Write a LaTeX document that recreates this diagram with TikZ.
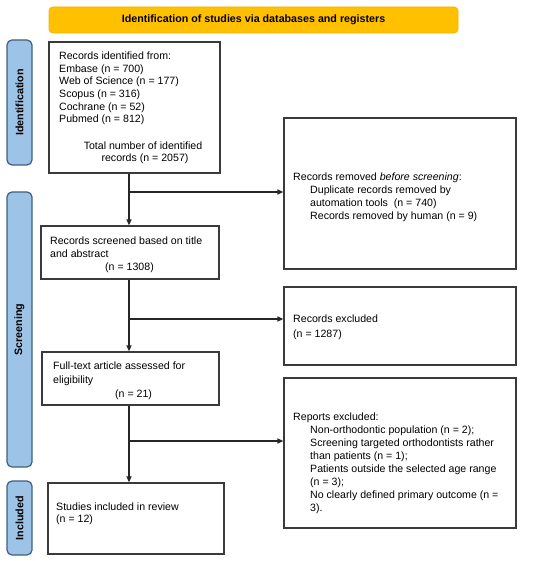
\documentclass[tikz,border=0pt]{standalone}
\usepackage{fontspec}
\setmainfont{Liberation Sans}
\usetikzlibrary{arrows.meta}
\definecolor{hdrfill}{HTML}{FFC000}
\definecolor{hdrdraw}{HTML}{F2B200}
\definecolor{sidefill}{HTML}{9DC3E6}
\definecolor{sidedraw}{HTML}{3F5F7F}
\definecolor{boxdraw}{HTML}{3A3A3A}
\begin{document}
\begin{tikzpicture}[x=1pt,y=-1pt,
  box/.style={draw=boxdraw,line width=1.2pt,fill=white,inner sep=0pt},
  hdr/.style={draw=hdrdraw,line width=0.8pt,fill=hdrfill,rounded corners=4pt,inner sep=0pt,
    font=\fontsize{10.7}{12}\selectfont\bfseries},
  side/.style={draw=sidedraw,line width=1.2pt,fill=sidefill,rounded corners=5pt,inner sep=0pt,
    font=\fontsize{10.7}{12}\selectfont\bfseries},
  sidetxt/.style={rotate=90,font=\fontsize{10.7}{12}\selectfont\bfseries,inner sep=0pt},
  txt/.style={inner sep=0pt,anchor=north west,align=left,font=\fontsize{10.6}{12.7}\selectfont},
  arr/.style={draw=black!85,line width=1.2pt,-{Triangle[length=6pt,width=5pt]}}]
\useasboundingbox (0,0) rectangle (550,561);
\fill[white] (0,0) rectangle (550,561);
% header
\node[hdr,minimum width=409pt,minimum height=26pt] (hdr) at (253.5,20) {Identification of studies via databases and registers};
% side labels
\node[side,minimum width=25pt,minimum height=125pt] (sid) at (19.5,102.5) {};
\node[sidetxt] (sidt) at (sid.center) {Identification};
\node[side,minimum width=25pt,minimum height=275pt] (ssc) at (19.5,329.5) {};
\node[sidetxt] (ssct) at (ssc.center) {Screening};
\node[side,minimum width=25pt,minimum height=74pt] (sin) at (19.5,518) {};
\node[sidetxt] (sint) at (sin.center) {Included};
% boxes
\node[box,minimum width=171pt,minimum height=131pt] (b1) at (134.5,107.5) {};
\node[box,minimum width=232pt,minimum height=151pt] (rem) at (400,193.5) {};
\node[box,minimum width=178pt,minimum height=53pt] (scr) at (130,252.5) {};
\node[box,minimum width=232pt,minimum height=78pt] (exc) at (400,326) {};
\node[box,minimum width=177pt,minimum height=53pt] (ful) at (130.5,378.5) {};
\node[box,minimum width=232pt,minimum height=150pt] (rep) at (400,453) {};
\node[box,minimum width=176pt,minimum height=71pt] (inc) at (136,518.5) {};
% texts
\node[txt] (t1) at (59,51.5) {Records identified from:\\Embase (n = 700)\\Web of Science (n = 177)\\Scopus (n = 316)\\Cochrane (n = 52)\\Pubmed (n = 812)};
\node[txt,anchor=center,align=center,font=\fontsize{10.6}{12}\selectfont] (t1b) at (143,152.5) {Total number of identified\\\hspace*{4pt}records (n = 2057)};
\node[txt,font=\fontsize{10.6}{13.2}\selectfont] (trem) at (293,172.5) {Records removed \textit{before screening}:\\\hspace*{17pt}Duplicate records removed by\\\hspace*{17pt}automation tools~ (n = 740)\\\hspace*{17pt}Records removed by human (n = 9)};
\node[txt,font=\fontsize{10.6}{13}\selectfont] (tscr) at (50,237) {Records screened based on title\\and abstract\\\hspace*{55pt}(n = 1308)};
\node[txt,font=\fontsize{10.6}{15}\selectfont] (texc) at (293,315) {Records excluded\\(n = 1287)};
\node[txt,font=\fontsize{10.6}{14}\selectfont] (tful) at (53,362) {Full-text article assessed for\\eligibility\\\hspace*{62pt}(n = 21)};
\node[txt,font=\fontsize{10.6}{12.9}\selectfont] (trep) at (293,413) {Reports excluded:\\\hspace*{17pt}Non-orthodontic population (n = 2);\\\hspace*{17pt}Screening targeted orthodontists rather\\\hspace*{17pt}than patients (n = 1);\\\hspace*{17pt}Patients outside the selected age range\\\hspace*{17pt}(n = 3);\\\hspace*{17pt}No clearly defined primary outcome (n =\\\hspace*{17pt}3).};
\node[txt,font=\fontsize{10.6}{11.5}\selectfont] (tinc) at (56,503) {Studies included in review\\(n = 12)};
% connectors
\coordinate (sx) at (129,0);
\coordinate (j1) at (129,192);
\coordinate (j2) at (129,319);
\coordinate (j3) at (129,441);
\draw[arr] (b1.south -| sx) -- (scr.north -| sx);
\draw[arr] (scr.south -| sx) -- (ful.north -| sx);
\draw[arr] (ful.south -| sx) -- (inc.north -| sx);
\draw[arr] (j1) -- (j1 -| rem.west);
\draw[arr] (j2) -- (j2 -| exc.west);
\draw[arr] (j3) -- (j3 -| rep.west);
\end{tikzpicture}
\end{document}
